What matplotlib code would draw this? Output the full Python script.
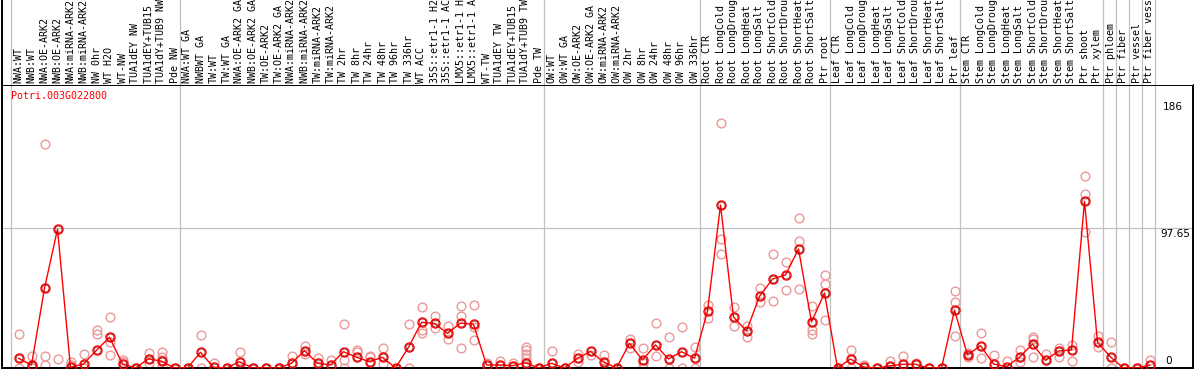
import matplotlib
matplotlib.use("Agg")
import matplotlib.pyplot as plt
import numpy as np

# sample names, in plotting order
labels = [
    "NWA:WT", "NWB:WT", "NWA:OE-ARK2", "NWB:OE-ARK2", "NWA:miRNA-ARK2", "NWB:miRNA-ARK2",
    "NW 0hr", "WT H2O", "WT-NW", "TUA1dEY NW", "TUA1dEY+TUB15 NW", "TUA1dY+TUB9 NW", "Pde NW",
    "NWA:WT GA", "NWBWT GA", "TW:WT", "TW:WT GA", "NWA:OE-ARK2 GA", "NWB:OE-ARK2 GA",
    "TW:OE-ARK2", "TW:OE-ARK2 GA", "NWA:miRNA-ARK2 GA", "NWB:miRNA-ARK2 GA", "TW:miRNA-ARK2",
    "TW:miRNA-ARK2 GA", "TW 2hr", "TW 8hr", "TW 24hr", "TW 48hr", "TW 96hr", "TW 336hr",
    "WT ACC", "35S::etr1-1 H2O", "35S::etr1-1 ACC", "LMX5::etr1-1 H2O", "LMX5::etr1-1 ACC",
    "WT-TW", "TUA1dEY TW", "TUA1dEY+TUB15 TW", "TUA1dY+TUB9 TW", "Pde TW",
    "OW:WT", "OW:WT GA", "OW:OE-ARK2", "OW:OE-ARK2 GA", "OW:miRNA-ARK2", "OW:miRNA-ARK2 GA",
    "OW 2hr", "OW 8hr", "OW 24hr", "OW 48hr", "OW 96hr", "OW 336hr",
    "Root CTR", "Root LongCold", "Root LongDrought", "Root LongHeat", "Root LongSalt",
    "Root ShortCold", "Root ShortDrought", "Root ShortHeat", "Root ShortSalt", "Ptr root",
    "Leaf CTR", "Leaf LongCold", "Leaf LongDrought", "Leaf LongHeat", "Leaf LongSalt",
    "Leaf ShortCold", "Leaf ShortDrought", "Leaf ShortHeat", "Leaf ShortSalt", "Ptr leaf",
    "Stem CTR", "Stem LongCold", "Stem LongDrought", "Stem LongHeat", "Stem LongSalt",
    "Stem ShortCold", "Stem ShortDrought", "Stem ShortHeat", "Stem ShortSalt", "Ptr shoot",
    "Ptr xylem", "Ptr phloem", "Ptr fiber", "Ptr vessel", "Ptr fiber vessel",
]
group_sizes = [13, 28, 12, 10, 10, 11, 1, 1, 1, 1]

means = [
    6.8, 2.1, 55.7, 97.0, 0.5, 2.8, 12.4, 21.5, 2.8, 0, 6.5, 4.7, 0,
    0, 11.0, 0.5, 0, 4.4, 0, 0, 0, 3.3, 12.1, 3.3, 2.1, 11.4, 7.5, 4.4, 7.5,
    0, 14.5, 31.9, 31.2, 24.2, 31.4, 30.5, 2.1, 2.1, 1.6, 3.7, 0,
    3.3, 0, 6.8, 11.6, 4.2, 0, 17.2, 5.6, 16.1, 6.3, 11.4, 6.8,
    39.8, 113.9, 35.6, 25.9, 50.1, 62.2, 65.0, 83.2, 32.2, 52.4,
    0, 6.3, 0.7, 0, 1.4, 2.6, 2.6, 0, 0, 40.5,
    9.1, 15.6, 2.8, 0.9, 7.5, 16.8, 5.3, 11.9, 12.6, 116.5, 18.0,
    7.7, 0, 0, 1.9,
]

replicates = [
    [23.5, 0], [8.4, 1.4, 0], [156.6, 8.4, 1.9], [6.1], [4.5, 2.2], [9.8, 0],
    [26.3, 23.5], [35.4, 18.4, 9.1], [5.6, 4.5], [0], [10.7, 3.8], [11.2, 7.9, 5.6, 1.4], [0],
    [0], [23.0, 0], [3.3], [0], [10.9, 0], [0], [0], [0], [8.4], [15.6, 9.8], [6.8, 0.7],
    [5.6], [30.5, 5.6, 0], [12.6, 11.4], [8.6, 7.5], [14.2, 2.6], [0], [30.5, 0],
    [42.4, 26.3, 24.4], [36.3, 27.7], [29.3, 20.0], [43.3, 36.3, 13.7], [43.8, 28.9, 19.6],
    [3.3], [4.9], [3.8], [14.9, 12.6, 9.8, 6.8, 1.4], [0],
    [12.1], [0], [9.8, 4.4], [9.0], [8.8, 0], [0], [20.0, 13.7], [13.7, 3.8, 0],
    [31.2, 8.4], [21.7, 0], [28.6, 0], [14.9, 0],
    [44.1, 34.7], [171.0, 89.9, 79.7], [42.4, 29.3], [29.3, 21.9], [55.7, 46.3],
    [79.7, 47.0], [74.1, 54.3], [104.9, 88.6, 55.0], [43.3, 26.3, 23.5], [64.8, 58.5, 33.6],
    [0], [12.6, 0], [1.9], [0], [4.9], [8.6], [3.8], [0], [0], [53.8, 45.9, 22.4],
    [10.2, 7.9], [24.2, 6.8], [8.8], [4.9], [12.6, 4.0], [21.9, 20.0, 7.5], [9.6],
    [14.2, 7.9], [16.1, 5.1], [134.2, 121.4, 94.8], [22.6, 14.9],
    [18.0, 0], [0], [0], [5.6],
]

gene = "Potri.003G022800"
y_max_label = 186
y_mid_label = 97.65

W, H = 1194, 370
mono = "DejaVu Sans Mono"
grid_c = "#c0c0c0"

fig = plt.figure(figsize=(W / 100, H / 100), dpi=100)
xl = ((2 - 18.5) / 13, (1193 - 18.5) / 13)
ax = fig.add_axes([2 / W, 2 / H, 1191 / W, 283 / H])
axl = fig.add_axes([2 / W, 285 / H, 1191 / W, 85 / H])

x = np.arange(len(labels))
ax.set_xlim(*xl)
ax.set_ylim(0, 283 / 1.4306)
axl.set_xlim(*xl)
axl.set_ylim(0, 1)

bounds = np.concatenate([[0], np.cumsum(group_sizes)]) - 0.58
for a in (ax, axl):
    for b in bounds:
        a.axvline(b, color=grid_c, lw=0.9, zorder=0)
    a.set_xticks([])
    a.set_yticks([])
ax.axhline(y_mid_label, color=grid_c, lw=0.9, zorder=0)

for s in ax.spines.values():
    s.set_linewidth(1.4)
for k in ("top", "right"):
    axl.spines[k].set_visible(False)
axl.spines["left"].set_linewidth(1.4)
axl.spines["bottom"].set_visible(False)

# replicates
rx = [i for i, r in enumerate(replicates) for _ in r]
ry = [v for r in replicates for v in r]
ax.plot(rx, ry, "o", ms=6.3, mfc="none", mec="#eb9898", mew=1.0, zorder=2)

# means
ax.plot(x, means, "-", color="#ff0000", lw=1.0, zorder=3)
ax.plot(x, means, "o", ms=6.5, mfc="none", mec="#ff0000", mew=1.0, zorder=4)
ax.plot(x, means, "o", ms=5.0, mfc="none", mec="#8a0000", mew=0.5, zorder=5)

for i, lab in enumerate(labels):
    axl.text(i, 2 / 85, lab, rotation=90, ha="center", va="bottom",
             fontsize=7.2, family=mono, color="black")

ax.text(bounds[0], (368 - 91) / 1.4306, gene, color="#ff0000", ha="left", va="top",
        fontsize=7.2, family=mono)

ax.text((1163 - 18.5) / 13, y_max_label, str(y_max_label), ha="left", va="top", fontsize=7.6)
ax.text((1160 - 18.5) / 13, y_mid_label - 0.7, f"{y_mid_label}", ha="left", va="top", fontsize=7.6)
ax.text((1165 - 18.5) / 13, 1.6, "0", ha="left", va="bottom", fontsize=7.6)

fig.savefig("out.png", dpi=100)
